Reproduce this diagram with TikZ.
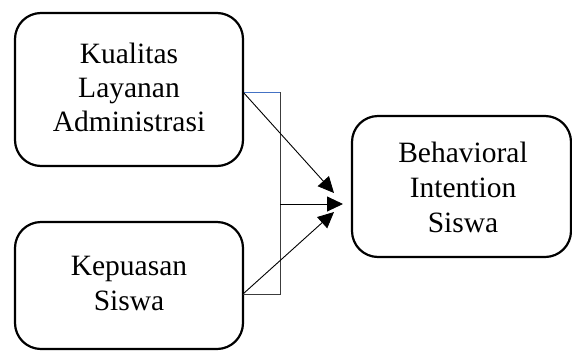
\documentclass[tikz,border=0pt]{standalone}
\usepackage{fontspec}
\setmainfont{Liberation Serif}
\usetikzlibrary{arrows.meta}
\begin{document}
\begin{tikzpicture}[x=1pt,y=-1pt,
  box/.style={draw,line width=2.2pt,rounded corners=26pt,inner sep=0pt},
  lbl/.style={anchor=base,inner sep=0pt,font=\fontsize{29.5}{34}\selectfont},
  conn/.style={line width=0.9pt},
  arr/.style={conn,-{Triangle[length=16pt,width=15pt]}}]
\useasboundingbox (0,0) rectangle (572,362);
\node[box,minimum width=228pt,minimum height=153pt] (b1) at (129,89.5) {};
\node[box,minimum width=228pt,minimum height=127pt] (b2) at (129,285.5) {};
\node[box,minimum width=219pt,minimum height=141pt] (b3) at (461.5,186.5) {};
\node[lbl] (t1a) at (129,63) {Kualitas};
\node[lbl] (t1b) at (129,97) {Layanan};
\node[lbl] (t1c) at (129,131) {Administrasi};
\node[lbl] (t2a) at (129,275) {Kepuasan};
\node[lbl] (t2b) at (129,310) {Siswa};
\node[lbl] (t3a) at (463,162) {Behavioral};
\node[lbl] (t3b) at (463,197) {Intention};
\node[lbl] (t3c) at (463,232) {Siswa};
\coordinate (p1) at (243,92);
\coordinate (p2) at (243,294);
\coordinate (q1) at (280,92);
\coordinate (q2) at (280,294);
\coordinate (qm) at (280,204);
\coordinate (h1) at (334,193);
\coordinate (hm) at (343,204);
\coordinate (h2) at (334,212);
\draw[conn,color={rgb,255:red,68;green,114;blue,196}] (p1) -- (q1);
\draw[conn,color={rgb,255:red,60;green,60;blue,60}] (q1) -- (q2) -- (p2);
\draw[arr] (p1) -- (h1);
\draw[arr] (qm) -- (hm);
\draw[arr] (p2) -- (h2);
\end{tikzpicture}
\end{document}
